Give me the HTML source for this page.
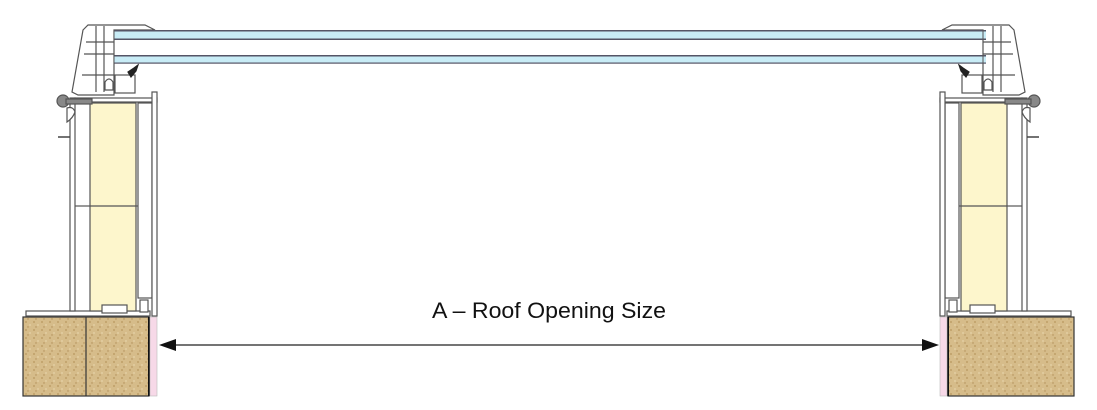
<!DOCTYPE html>
<html><head><style>html,body{margin:0;padding:0;background:#fff;}svg{display:block}</style></head>
<body>
<svg width="1097" height="410" viewBox="0 0 1097 410" xmlns="http://www.w3.org/2000/svg">
<defs>
<pattern id="wood" width="8" height="8" patternUnits="userSpaceOnUse">
<rect width="8" height="8" fill="#d6bc8a"/>
<circle cx="2" cy="2" r="1" fill="#bf9f68"/>
<circle cx="6" cy="5" r="0.9" fill="#e6d3a8"/>
<circle cx="4" cy="7" r="0.7" fill="#b08e58"/>
</pattern>
<g id="side" fill="none" stroke="#555" stroke-width="1.2">
  <rect x="23" y="317" width="126" height="79" fill="url(#wood)" stroke="#333"/>
  <line x1="149" y1="317" x2="149" y2="396" stroke="#111" stroke-width="2"/>
  <rect x="150" y="317" width="7" height="79" fill="#f7d9e8" stroke="#bbb" stroke-width="0.6"/>
  <rect x="26" y="311" width="124" height="5" fill="#fff"/>
  <rect x="70" y="98" width="5" height="213" fill="#fff"/>
  <rect x="75" y="98" width="82" height="4" fill="#fff"/>
  <rect x="90" y="103" width="46" height="208" fill="#fdf6cc"/>
  <line x1="90" y1="206" x2="136" y2="206"/>
  <line x1="75" y1="206" x2="90" y2="206"/>
  <line x1="136" y1="206" x2="152" y2="206"/>
  <rect x="138" y="103" width="14" height="195" fill="#fff"/>
  <rect x="152" y="92" width="5" height="224" fill="#fff"/>
  <rect x="102" y="305" width="25" height="8" fill="#fff"/>
  <rect x="140" y="300" width="8" height="12" fill="#fff"/>
  <line x1="58" y1="137" x2="70" y2="137" stroke="#444" stroke-width="1.5"/>
  <path d="M88 25 L145 25 L155 30 L114 30 L114 95 L100 95 L78 95 L72 92 L83 30 Z" fill="#fff"/>
  <line x1="96" y1="26" x2="96" y2="92"/>
  <line x1="104" y1="26" x2="104" y2="92"/>
  <line x1="86" y1="42" x2="114" y2="42"/>
  <line x1="84" y1="54" x2="114" y2="54"/>
  <line x1="82" y1="75" x2="114" y2="75"/>
  <rect x="115" y="75" width="20" height="18" fill="#fff"/>
  <path d="M105 82 q4 -6 8 0 v8 h-8z" fill="#fff"/>
  <path d="M128 72 l6 -4 l4 -3 l-2 6 l-5 6 z" fill="#222" stroke="#222"/>
  <ellipse cx="63" cy="101" rx="6" ry="6" fill="#888" stroke="#555"/>
  <rect x="66" y="99" width="26" height="5" fill="#888" stroke="#555"/>
  <path d="M67 108 q6 -2 8 4 q-2 6 -8 10 z" fill="#fff"/>
</g>
</defs>
<use href="#side"/>
<line x1="86" y1="317" x2="86" y2="396" stroke="#333" stroke-width="1.2"/>
<use href="#side" transform="translate(1097 0) scale(-1 1)"/>
<g>
<rect x="114" y="30" width="872" height="1.5" fill="#556"/>
<rect x="114" y="31.5" width="872" height="7" fill="#c8ecf6"/>
<rect x="114" y="38.5" width="872" height="1.5" fill="#556"/>
<rect x="114" y="55" width="872" height="1.5" fill="#556"/>
<rect x="114" y="56.5" width="872" height="6" fill="#c8ecf6"/>
<rect x="114" y="62.5" width="872" height="1.2" fill="#556"/>
<line x1="114" y1="30" x2="114" y2="64" stroke="#555"/>
<line x1="983" y1="30" x2="983" y2="64" stroke="#555"/>
</g>
<line x1="172" y1="345" x2="926" y2="345" stroke="#222" stroke-width="1.2"/>
<polygon points="159,345 176,339 176,351" fill="#111"/>
<polygon points="939,345 922,339 922,351" fill="#111"/>
<text x="432" y="318" font-family="Liberation Sans, sans-serif" font-size="22" fill="#111" textLength="234" lengthAdjust="spacingAndGlyphs">A – Roof Opening Size</text>
</svg>
</body></html>
